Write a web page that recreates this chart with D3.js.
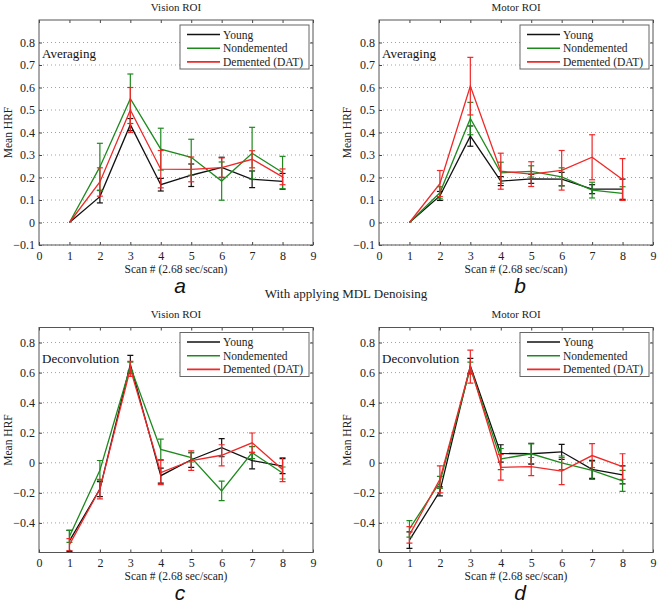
<!DOCTYPE html>
<html><head><meta charset="utf-8">
<script src="https://cdn.jsdelivr.net/npm/d3@7"></script>
<style>body{margin:0;background:#fff}svg{display:block}
.sf{font-family:"Liberation Serif","Tinos","Times New Roman","DejaVu Serif",serif}
.ss{font-family:"Liberation Sans",Arimo,Arial,sans-serif}
</style>
</head><body>
<script>
const scans = [1,2,3,4,5,6,7,8];
const seriesNames = ["Young","Nondemented","Demented (DAT)"];
const seriesColors = ["#111111","#1e8a1e","#f02828"];

// Panel a: Vision ROI, Averaging
const youngA = [0, 0.115, 0.435, 0.168, 0.21, 0.245, 0.192, 0.183];
const youngAErr = [0, 0.028, 0.027, 0.028, 0.05, 0.045, 0.037, 0.035];
const nondemA = [0, 0.247, 0.55, 0.326, 0.29, 0.184, 0.308, 0.222];
const nondemAErr = [0, 0.105, 0.11, 0.093, 0.08, 0.085, 0.115, 0.072];
const datA = [0, 0.18, 0.5, 0.237, 0.236, 0.244, 0.281, 0.203];
const datAErr = [0, 0.063, 0.1, 0.083, 0.055, 0.043, 0.038, 0.035];

// Panel b: Motor ROI, Averaging
const youngB = [0, 0.118, 0.384, 0.184, 0.194, 0.193, 0.148, 0.148];
const youngBErr = [0, 0.02, 0.045, 0.02, 0.02, 0.03, 0.02, 0.045];
const nondemB = [0, 0.132, 0.462, 0.221, 0.227, 0.203, 0.144, 0.129];
const nondemBErr = [0, 0.027, 0.072, 0.047, 0.025, 0.04, 0.035, 0.03];
const datB = [0, 0.173, 0.606, 0.228, 0.215, 0.232, 0.29, 0.191];
const datBErr = [0, 0.058, 0.128, 0.08, 0.055, 0.088, 0.1, 0.093];

// Panel c: Vision ROI, Deconvolution
const youngC = [-0.52, -0.175, 0.655, -0.086, 0.02, 0.1, 0.015, -0.022];
const youngCErr = [0.07, 0.05, 0.06, 0.05, 0.05, 0.06, 0.055, 0.05];
const nondemC = [-0.49, -0.05, 0.64, 0.089, 0.035, -0.187, 0.067, -0.068];
const nondemCErr = [0.04, 0.065, 0.03, 0.068, 0.03, 0.065, 0.04, 0.04];
const datC = [-0.545, -0.175, 0.625, -0.065, 0.015, 0.05, 0.133, -0.045];
const datCErr = [0.04, 0.065, 0.05, 0.08, 0.065, 0.07, 0.065, 0.08];

// Panel d: Motor ROI, Deconvolution
const youngD = [-0.515, -0.19, 0.645, 0.062, 0.06, 0.073, -0.044, -0.08];
const youngDErr = [0.055, 0.03, 0.05, 0.058, 0.07, 0.05, 0.06, 0.06];
const nondemD = [-0.44, -0.13, 0.63, 0.025, 0.06, 0, -0.05, -0.12];
const nondemDErr = [0.055, 0.04, 0.04, 0.07, 0.065, 0.045, 0.06, 0.07];
const datD = [-0.48, -0.11, 0.64, -0.03, -0.025, -0.055, 0.048, -0.025];
const datDErr = [0.055, 0.09, 0.11, 0.085, 0.06, 0.09, 0.08, 0.085];

const xTicks = [0,1,2,3,4,5,6,7,8,9];
const yTicksTop = [-0.1,0,0.1,0.2,0.3,0.4,0.5,0.6,0.7,0.8];
const yTicksBottom = [-0.4,-0.2,0,0.2,0.4,0.6,0.8];
const titles = ["Vision ROI","Motor ROI","Vision ROI","Motor ROI"];
const methods = ["Averaging","Averaging","Deconvolution","Deconvolution"];
const letters = ["a","b","c","d"];
const xLabel = "Scan # (2.68 sec/scan)";
const yLabel = "Mean HRF";
const midCaption = "With applying MDL Denoising";

const W = 659, H = 603;
const svg = d3.select("body").append("svg").attr("width", W).attr("height", H);

const panels = [
  {left:39, top:20, ydom:[-0.1,0.9], yt:yTicksTop,
   data:[[youngA,youngAErr],[nondemA,nondemAErr],[datA,datAErr]]},
  {left:379, top:20, ydom:[-0.1,0.9], yt:yTicksTop,
   data:[[youngB,youngBErr],[nondemB,nondemBErr],[datB,datBErr]]},
  {left:39, top:327.5, ydom:[-0.597,0.9], yt:yTicksBottom,
   data:[[youngC,youngCErr],[nondemC,nondemCErr],[datC,datCErr]]},
  {left:379, top:327.5, ydom:[-0.597,0.9], yt:yTicksBottom,
   data:[[youngD,youngDErr],[nondemD,nondemDErr],[datD,datDErr]]}
];
const pw = 274, ph = 225;
const f1 = d3.format(".1f");

panels.forEach((p, i) => {
  const g = svg.append("g").attr("class","sf").attr("transform", `translate(${p.left},${p.top})`);
  const x = d3.scaleLinear().domain([0,9]).range([0,pw]);
  const y = d3.scaleLinear().domain(p.ydom).range([ph,0]);
  const fmtY = v => (Math.abs(v)<1e-9 ? "0" : f1(v));

  g.append("rect").attr("width",pw).attr("height",ph).attr("fill","#fff");
  g.selectAll(".grid").data(p.yt).join("line")
    .attr("x1",0).attr("x2",pw).attr("y1",d=>y(d)).attr("y2",d=>y(d))
    .attr("stroke","#8a8a8a").attr("stroke-width",0.8).attr("stroke-dasharray","1,3");

  const clipId = "clip"+i;
  g.append("clipPath").attr("id",clipId).append("rect").attr("width",pw).attr("height",ph);
  const plot = g.append("g").attr("clip-path",`url(#${clipId})`);

  p.data.forEach(([vals, errs], si) => {
    const col = seriesColors[si];
    const pts = scans.map((s,k)=>({x:s, v:vals[k], e:errs[k]}));
    plot.append("path").datum(pts)
      .attr("d", d3.line().x(d=>x(d.x)).y(d=>y(d.v)))
      .attr("fill","none").attr("stroke",col).attr("stroke-width",1.3);
    const eb = plot.append("g");
    pts.forEach(d => {
      if (d.e <= 0) return;
      const cx = x(d.x);
      eb.append("line").attr("x1",cx).attr("x2",cx).attr("y1",y(d.v-d.e)).attr("y2",y(d.v+d.e))
        .attr("stroke",col).attr("stroke-width",1.2);
      [d.v-d.e, d.v+d.e].forEach(vv => {
        eb.append("line").attr("x1",cx-3).attr("x2",cx+3).attr("y1",y(vv)).attr("y2",y(vv))
          .attr("stroke",col).attr("stroke-width",1.2);
      });
    });
  });

  const axB = d3.axisBottom(x).tickValues(xTicks).tickSize(-3).tickPadding(6).tickFormat(d3.format("d"));
  const axT = d3.axisTop(x).tickValues(xTicks).tickSize(-3).tickFormat("");
  const axL = d3.axisLeft(y).tickValues(p.yt).tickSize(-3).tickPadding(4).tickFormat(fmtY);
  const axR = d3.axisRight(y).tickValues(p.yt).tickSize(-3).tickFormat("");
  const styleAx = sel => {
    sel.attr("font-family",null).attr("font-size",null);
    sel.select(".domain").remove();
    sel.selectAll("line").attr("stroke","#444");
    sel.selectAll("text").attr("font-size",12).attr("fill","#222");
  };
  g.append("g").attr("transform",`translate(0,${ph})`).call(axB).call(styleAx);
  g.append("g").call(axT).call(styleAx);
  g.append("g").call(axL).call(styleAx);
  g.append("g").attr("transform",`translate(${pw},0)`).call(axR).call(styleAx);
  g.append("rect").attr("width",pw).attr("height",ph).attr("fill","none").attr("stroke","#555").attr("stroke-width",1);

  const lg = g.append("g").attr("transform",`translate(${pw-133},5)`);
  lg.append("rect").attr("width",129).attr("height",44).attr("fill","#fff").attr("stroke","#666").attr("stroke-width",1);
  seriesNames.forEach((n, si) => {
    const yy = 9.5 + si*13.7;
    lg.append("line").attr("x1",7).attr("x2",40).attr("y1",yy).attr("y2",yy)
      .attr("stroke",seriesColors[si]).attr("stroke-width",1.6);
    lg.append("text").attr("x",43).attr("y",yy).attr("dy","0.35em")
      .attr("font-size",11.5).attr("fill","#222").text(n);
  });

  g.append("text").attr("x",3).attr("y", i<2 ? 33 : 31).attr("dy","0.35em")
    .attr("font-size",13).attr("fill","#111").text(methods[i]);

  g.append("text").attr("x",pw/2).attr("y",-13).attr("dy","0.35em").attr("text-anchor","middle")
    .attr("font-size",11).attr("fill","#222").text(titles[i]);
  g.append("text").attr("x",pw/2).attr("y",ph+23.5).attr("dy","0.35em").attr("text-anchor","middle")
    .attr("font-size",11.5).attr("fill","#222").text(xLabel);
  g.append("text").attr("transform",`translate(${i%2===0?-31:-32},${ph/2}) rotate(-90)`)
    .attr("dy","0.35em").attr("text-anchor","middle")
    .attr("font-size",11.5).attr("fill","#222").text(yLabel);
  g.append("text").attr("class","ss").attr("x",pw/2 + 4).attr("y",ph+47.5).attr("text-anchor","middle")
    .attr("font-style","italic").attr("font-size",21).attr("fill","#111").text(letters[i]);
});

svg.append("text").attr("class","sf").attr("x",346).attr("y",293).attr("dy","0.35em").attr("text-anchor","middle")
  .attr("font-size",13).attr("fill","#222").text(midCaption);
</script>
</body></html>
